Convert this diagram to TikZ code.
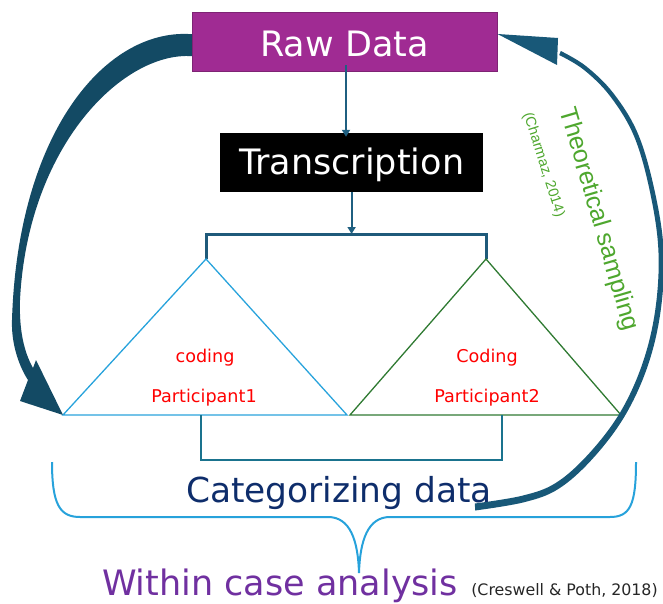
\documentclass[tikz,border=0pt]{standalone}
\usepackage{fontspec}
\setmainfont{DejaVu Sans}
\newfontfamily\arifont{Liberation Sans}
\usetikzlibrary{arrows.meta}
\definecolor{rawfill}{HTML}{A02B93}
\definecolor{rawdraw}{HTML}{7E2374}
\definecolor{leftarr}{HTML}{134A64}
\definecolor{rightarr}{HTML}{185878}
\definecolor{connc}{HTML}{1F5F80}
\definecolor{brkc}{HTML}{1F5A7A}
\definecolor{tria}{HTML}{29A3DC}
\definecolor{trib}{HTML}{2F7A32}
\definecolor{navy}{HTML}{0E2D6B}
\definecolor{purp}{HTML}{7030A0}
\definecolor{grn}{HTML}{4EA72E}
\definecolor{bracec}{HTML}{27A2DB}
\definecolor{redc}{HTML}{FF0000}
\begin{document}
\begin{tikzpicture}[x=1pt,y=-1pt,
  boxnode/.style={rectangle, inner sep=0pt, text=white, font=\fontsize{35}{40}\selectfont},
  lbl/.style={inner sep=0pt, anchor=base},
  redlbl/.style={lbl, text=redc, font=\fontsize{17.6}{20}\selectfont},
  conn/.style={draw=connc, line width=2pt, -{Triangle[width=8pt,length=7pt]}},
  brk/.style={draw=brkc, line width=3pt},
  brk2/.style={draw=brkc!85!cyan, line width=2.5pt},
]
\useasboundingbox (0,0) rectangle (663,604);

% coordinates of the big curved arrows' ends
\coordinate (la1) at (199,35);
\coordinate (la2) at (199,57);
\coordinate (latip) at (63,415);

% big left curved arrow (drawn before the box)
\fill[leftarr] (la1) .. controls (112,22) and (18,125) .. (12,320)
  .. controls (11,345) and (20,368) .. (28,380)
  -- (20,401) -- (latip) -- (36,360) -- (33,368)
  .. controls (24,352) and (19,330) .. (20,300)
  .. controls (28,140) and (130,45) .. (la2) -- cycle;

% boxes
\node[boxnode, fill=rawfill, draw=rawdraw, line width=1pt, minimum width=305pt, minimum height=59pt,
      text height=29pt, text depth=0pt] (raw) at (344.5,42.5) {Raw Data};
\node[boxnode, fill=black, minimum width=263pt, minimum height=59pt,
      text height=25pt, text depth=0pt] (trans) at (351.6,162.5) {Transcription};

% coordinates
\coordinate (brtop) at (0,234);
\coordinate (t1a) at (206,259);
\coordinate (t1l) at (63,415);
\coordinate (t1r) at (347,415);
\coordinate (t2a) at (486,259);
\coordinate (t2l) at (350,415);
\coordinate (t2r) at (621,415);
\coordinate (bbl) at (201,415);
\coordinate (bbr) at (502,415);
\coordinate (bby) at (0,460);

% connectors
\draw[conn, shorten >=-4pt] ([xshift=1.5pt,yshift=7pt]raw.south) -- ([xshift=1.5pt]raw.south |- trans.north);
\draw[conn] (trans.south) -- (trans.south |- brtop);
\draw[brk] (t1a) -- (t1a |- brtop) -- (t2a |- brtop) -- (t2a);

% triangles
\draw[tria, line width=1.3pt, line join=miter] (t1a) -- (t1l) -- (t1r) -- cycle;
\draw[trib, line width=1.3pt, line join=miter] (t2a) -- (t2l) -- (t2r) -- cycle;

% bottom bracket
\draw[brk2] (bbl) -- (bbl |- bby) -- (bbr |- bby) -- (bbr);

% labels in triangles
\node[redlbl] (cod1) at (205,362) {coding};
\node[redlbl] (par1) at (204,402) {Participant1};
\node[redlbl] (cod2) at (487,362) {Coding};
\node[redlbl] (par2) at (487,402) {Participant2};

% right arrow (theoretical sampling)
\fill[rightarr] plot[smooth, tension=0.6] coordinates {(475.1,510.5) (523.8,502.3) (558.3,489.0) (591.8,459.6) (624.2,417.0) (647.6,366.3) (660.7,310.4) (663.6,249.6) (654.2,188.9) (637.8,133.4) (613.4,93.2) (586.0,66.1) (560.8,51.0)}
  -- plot[smooth, tension=0.6] coordinates {(559.2,55.0) (584.0,69.9) (610.6,96.8) (634.2,136.6) (649.8,191.1) (658.4,250.4) (655.3,309.6) (642.4,363.7) (619.8,413.0) (588.2,454.4) (555.7,483.0) (522.2,495.7) (474.9,503.5)} -- cycle;
\coordinate (rtip) at (raw.east |- 0,34);
\fill[rightarr] (rtip) -- (558,38) -- (557,65) -- cycle;

% categorizing
\node[lbl, text=navy, font=\fontsize{34.4}{40}\selectfont] (cat) at (339,502) {Categorizing data};

% brace
\draw[bracec, line width=2pt] (52,462) .. controls (52,505) and (60,517) .. (80,517) -- (328,517)
  .. controls (350,517) and (358,540) .. (359,573)
  .. controls (360,540) and (368,517) .. (390,517) -- (610,517)
  .. controls (630,517) and (636,505) .. (636,462);

% bottom texts
\node[lbl, text=purp, font=\fontsize{35}{40}\selectfont] (within) at (280,595) {Within case analysis};
\node[lbl, text=black!85, font=\fontsize{15.8}{18}\selectfont] (cres) at (564.5,595) {(Creswell \& Poth, 2018)};

% rotated texts
\node[inner sep=0pt, text=grn, rotate=-73.7, font=\arifont\fontsize{25}{30}\selectfont] (theo) at (598.5,219.5) {Theoretical sampling};
\node[inner sep=0pt, text=grn, rotate=-72.4, font=\arifont\fontsize{14.5}{17}\selectfont] (charm) at (543.5,165) {(Charmaz, 2014)};
\end{tikzpicture}
\end{document}
